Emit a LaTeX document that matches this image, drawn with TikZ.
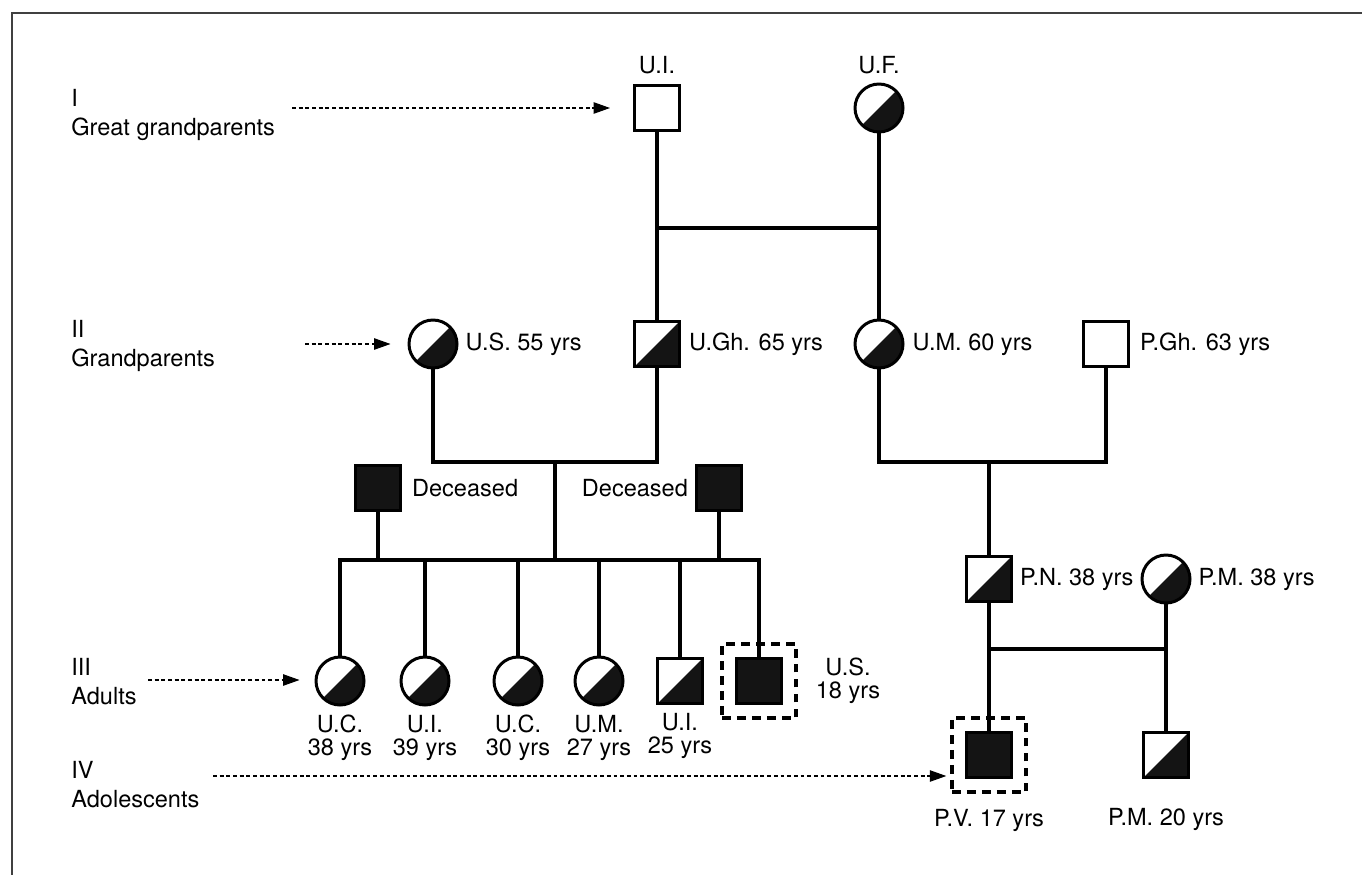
\documentclass[tikz,border=0pt]{standalone}
\usepackage{fontspec}
\setmainfont{TeX Gyre Heros}
\usetikzlibrary{arrows.meta,positioning,fit,calc}
\tikzset{
  male/.style={draw, rectangle, minimum size=9mm, inner sep=0pt, line width=1.7pt, fill=white},
  female/.style={draw, circle, minimum size=9.6mm, inner sep=0pt, line width=1.7pt, fill=white},
  carrier/.style={path picture={\fill[black!92] (path picture bounding box.south west) -- (path picture bounding box.north east) -- (path picture bounding box.south east) -- cycle;}},
  affected/.style={fill=black!92},
  probebox/.style={draw, rectangle, dash pattern=on 5pt off 3.5pt, line width=2pt, inner sep=2.6mm},
  lnk/.style={line width=1.8pt, line cap=rect},
  genarr/.style={-{Triangle[length=3.3mm,width=2.3mm]}, line width=0.6pt, dash pattern=on 2.2pt off 1.6pt},
  lbl/.style={font=\fontsize{13.4}{13}\selectfont, inner sep=1pt, align=center},
  genlbl/.style={font=\fontsize{13.4}{16.5}\selectfont, inner sep=0pt, align=left, anchor=north west},
  frame/.style={line width=0.9pt, black!75},
}

\begin{document}
\begin{tikzpicture}[x=0.02cm, y=-0.02cm, node distance=2mm]
\useasboundingbox (0,0) rectangle (1362,875);
\draw[frame] (12,875) |- (1362,13);

% generations I and II
\node[male] (ui) at (657,108) {};
\node[female, carrier] (uf) at (879,108) {};
\node[female, carrier] (us) at (433,344) {};
\node[male, carrier] (ugh) at (657,344) {};
\node[female, carrier] (um) at (879,344) {};
\node[male] (pgh) at (1106,344) {};
\node[male, affected] (d1) at (378,488) {};
\node[male, affected] (d2) at (719,488) {};
% generations III and IV
\node[female, carrier] (c1) at (340,681) {};
\node[female, carrier] (c2) at (425,681) {};
\node[female, carrier] (c3) at (518,681) {};
\node[female, carrier] (c4) at (599,681) {};
\node[male, carrier] (c5) at (680,681) {};
\node[male, affected] (c6) at (759,681) {};
\node[male, carrier] (pn) at (989,579) {};
\node[female, carrier] (pmm) at (1166,579) {};
\node[male, affected] (pv) at (989,755) {};
\node[male, carrier] (pms) at (1166,755) {};
\node[probebox, fit=(c6)] (c6box) {};
\node[probebox, fit=(pv)] (pvbox) {};

\node[lbl, above=1.6mm of ui] {U.I.};
\node[lbl, above=1.3mm of uf] {U.F.};
\node[lbl, right=1mm of us] {U.S. 55 yrs};
\node[lbl, right=1.2mm of ugh] {U.Gh. 65 yrs};
\node[lbl, right=1.2mm of um] {U.M. 60 yrs};
\node[lbl, right=1.6mm of pgh] {P.Gh. 63 yrs};
\node[lbl, right=1.6mm of d1] {Deceased};
\node[lbl, left=1mm of d2] {Deceased};
\node[lbl, below=1.3mm of c1] {U.C.\\38 yrs};
\node[lbl, below=1.3mm of c2] {U.I.\\39 yrs};
\node[lbl, below=1.3mm of c3] {U.C.\\30 yrs};
\node[lbl, below=1.3mm of c4] {U.M.\\27 yrs};
\node[lbl, below=1.3mm of c5] {U.I.\\25 yrs};
\node[lbl, right=3.2mm of c6box] {U.S.\\18 yrs};
\node[lbl, right=1mm of pn] {P.N. 38 yrs};
\node[lbl, right=1mm of pmm] {P.M. 38 yrs};
\node[lbl, below=2.6mm of pvbox] {P.V. 17 yrs};
\node[lbl, below=5.5mm of pms] {P.M. 20 yrs};

\node[genlbl] (gI) at (71,89) {I\\Great grandparents};
\node[genlbl] (gII) at (71,320) {II\\Grandparents};
\node[genlbl] (gIII) at (71,658) {III\\Adults};
\node[genlbl] (gIV) at (71,761) {IV\\Adolescents};

\coordinate (bar1) at (768,228);
\coordinate (bar2) at (555,462);
\coordinate (sib) at (555,560);
\coordinate (bar3) at (989,462);
\coordinate (bar4) at (1078,649);
\draw[lnk] (ui |- bar1) -- (uf |- bar1);
\draw[lnk] (ui) -- (ugh);
\draw[lnk] (uf) -- (um);
\draw[lnk] (us.south) |- (ugh.south |- bar2) -- (ugh.south);
\draw[lnk] (bar2) -- (sib);
\draw[lnk] (c1.north) |- (c6.north |- sib) -- (c6.north);
\foreach \k in {c2,c3,c4,c5,d1,d2}
  \draw[lnk] (\k) -- (\k |- sib);
\draw[lnk] (um.south) |- (pgh.south |- bar3) -- (pgh.south);
\draw[lnk] (bar3) -- (pn);
\draw[lnk] (pn) -- (pv);
\draw[lnk] (pmm) -- (pms);
\draw[lnk] (pn |- bar4) -- (pmm |- bar4);

\coordinate (aI) at (292,108);
\coordinate (aII) at (305,344);
\coordinate (aIII) at (148,680);
\coordinate (aIV) at (213,776);
\draw[genarr, shorten >=4.6mm] (aI) -- (aI -| ui.west);
\draw[genarr, shorten >=3.4mm] (aII) -- (aII -| us.west);
\draw[genarr, shorten >=3mm] (aIII) -- (aIII -| c1.west);
\draw[genarr, shorten >=0.8mm] (aIV) -- (aIV -| pvbox.west);
\end{tikzpicture}
\end{document}
